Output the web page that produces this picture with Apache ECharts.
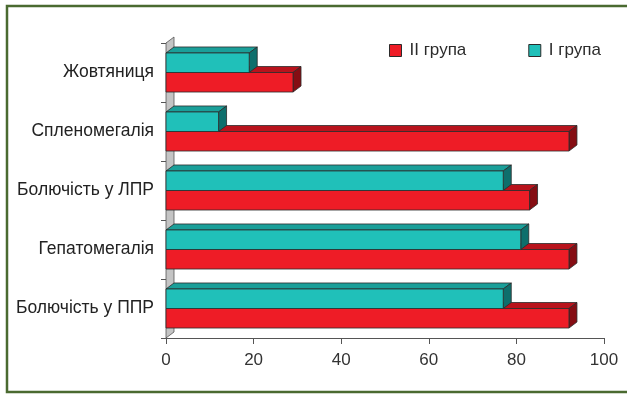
<!DOCTYPE html>
<html>
<head>
<meta charset="utf-8">
<script src="https://cdn.jsdelivr.net/npm/echarts@6/dist/echarts.min.js"></script>
<style>
  html, body { margin: 0; padding: 0; background: #ffffff; }
  #chart { width: 627px; height: 396px; }
</style>
</head>
<body>
<div id="chart"></div>
<script>
// Symptom categories, drawn top to bottom
const categories = ['Жовтяниця', 'Спленомегалія', 'Болючість у ЛПР', 'Гепатомегалія', 'Болючість у ППР'];
// Percentages per group
const groupI = [19, 12, 77, 81, 77];
const groupII = [29, 92, 83, 92, 92];
const seriesNames = ['I група', 'II група'];
const xTicks = { min: 0, max: 100, interval: 20 };

const FONT = "'Liberation Sans', Arial, sans-serif";
const DX = 8, DY = 6;          // depth offset of the pseudo-3D bars
const BAR_RATIO = 0.331;       // bar thickness relative to category band

const palette = {
  teal: { front: '#20c0b9', top: '#1a9f99', side: '#0e6f6c' },
  red:  { front: '#ee1c26', top: '#b8131c', side: '#850d13' }
};
const edge = { stroke: '#2b2b2b', lineWidth: 0.8 };

// Box-shaped bar: front face, top face and right side face
function barRenderer(colors, upper) {
  return function (params, api) {
    const val = api.value(0);
    const cat = api.value(1);
    const base = api.coord([0, cat]);
    const end = api.coord([val, cat]);
    const band = api.size([0, 1])[1];
    const bw = band * BAR_RATIO;
    const c = base[1];
    const y0 = upper ? c - bw : c;
    const y1 = upper ? c : c + bw;
    const x0 = base[0], x1 = end[0];
    return {
      type: 'group',
      children: [
        { type: 'polygon', shape: { points: [[x0, y0], [x0 + DX, y0 - DY], [x1 + DX, y0 - DY], [x1, y0]] },
          style: Object.assign({ fill: colors.top }, edge) },
        { type: 'polygon', shape: { points: [[x1, y0], [x1 + DX, y0 - DY], [x1 + DX, y1 - DY], [x1, y1]] },
          style: Object.assign({ fill: colors.side }, edge) },
        { type: 'rect', shape: { x: x0, y: y0, width: x1 - x0, height: y1 - y0 },
          style: Object.assign({ fill: colors.front }, edge) }
      ]
    };
  };
}

// Grey side wall behind the bars, along the category axis
function wallRenderer(params) {
  const g = params.coordSys;
  return {
    type: 'polygon',
    shape: { points: [[g.x, g.y], [g.x + DX, g.y - DY], [g.x + DX, g.y + g.height - DY], [g.x, g.y + g.height]] },
    style: { fill: '#c4c4c4', stroke: '#555', lineWidth: 0.8 }
  };
}

const chart = echarts.init(document.getElementById('chart'), null, { renderer: 'canvas' });
chart.setOption({
  animation: false,
  backgroundColor: '#ffffff',
  textStyle: { fontFamily: FONT },
  graphic: [{
    type: 'rect', silent: true, z: 100,
    shape: { x: 7, y: 6, width: 640, height: 386 },
    style: { fill: 'none', stroke: '#4a6a30', lineWidth: 2.5 }
  }],
  grid: { left: 166, right: 23, top: 43, bottom: 58 },
  legend: {
    data: ['II група', 'I група'],
    left: 389, top: 42, padding: 0,
    icon: 'rect', itemWidth: 12, itemHeight: 12, itemGap: 62,
    itemStyle: { borderColor: '#2b2b2b', borderWidth: 1 },
    textStyle: { fontFamily: FONT, fontSize: 17, color: '#2b2b2b', padding: [0, 0, 0, 3] }
  },
  xAxis: {
    type: 'value', min: xTicks.min, max: xTicks.max, interval: xTicks.interval,
    axisLine: { show: true, lineStyle: { color: '#555', width: 1 } },
    axisTick: { show: true, length: 6, lineStyle: { color: '#555' } },
    splitLine: { show: false },
    axisLabel: { fontFamily: FONT, fontSize: 17, color: '#333', margin: 14 }
  },
  yAxis: {
    type: 'category', data: categories, inverse: true,
    axisLine: { show: true, lineStyle: { color: '#555', width: 1 } },
    axisTick: { show: true, length: 5, lineStyle: { color: '#555' } },
    axisLabel: { fontFamily: FONT, fontSize: 17.5, color: '#222', margin: 12 }
  },
  series: [
    {
      type: 'custom', name: '__wall', silent: true, z: 1,
      renderItem: wallRenderer, data: [[0, 0]], encode: { x: 0, y: 1 }
    },
    {
      type: 'custom', name: seriesNames[1], z: 2,
      itemStyle: { color: palette.red.front },
      renderItem: barRenderer(palette.red, false),
      encode: { x: 0, y: 1 },
      data: groupII.map((v, i) => [v, i])
    },
    {
      type: 'custom', name: seriesNames[0], z: 3,
      itemStyle: { color: palette.teal.front },
      renderItem: barRenderer(palette.teal, true),
      encode: { x: 0, y: 1 },
      data: groupI.map((v, i) => [v, i])
    }
  ]
});
</script>
</body>
</html>
